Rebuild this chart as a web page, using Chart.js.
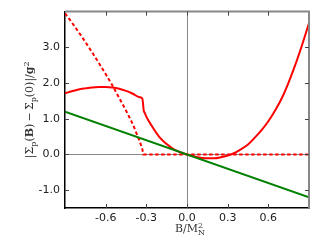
<!DOCTYPE html>
<html>
<head>
<meta charset="utf-8">
<script src="https://cdn.jsdelivr.net/npm/chart.js@4"></script>
<style>
  body { margin: 0; background: #fff; }
</style>
</head>
<body>
<canvas id="chart" width="325" height="245"></canvas>
<script>
// solid red curve
const solidX = [-0.9, -0.85, -0.8, -0.75, -0.7, -0.65, -0.6, -0.55, -0.5, -0.45, -0.4, -0.35, -0.33,
  -0.325, -0.32, -0.31, -0.3, -0.28, -0.25, -0.2, -0.15, -0.1, -0.05, 0, 0.05, 0.1, 0.15, 0.2, 0.25,
  0.3, 0.35, 0.4, 0.45, 0.5, 0.55, 0.6, 0.65, 0.7, 0.75, 0.8, 0.85, 0.9];
const solidY = [1.71, 1.77, 1.82, 1.85, 1.875, 1.885, 1.885, 1.875, 1.84, 1.78, 1.70, 1.60, 1.57,
  1.45, 1.25, 1.15, 1.06, 0.92, 0.74, 0.47, 0.29, 0.15, 0.06, 0, -0.05, -0.09, -0.11, -0.11, -0.08,
  -0.03, 0.04, 0.15, 0.28, 0.47, 0.68, 0.93, 1.23, 1.58, 2.02, 2.52, 3.08, 3.68];

// dashed red curve
const dashX = [-0.9, -0.85, -0.8, -0.75, -0.7, -0.65, -0.6, -0.55, -0.5, -0.45, -0.4, -0.35, -0.33, -0.322, 0.9];
const dashY = [3.95, 3.70, 3.43, 3.15, 2.86, 2.56, 2.25, 1.93, 1.58, 1.23, 0.85, 0.38, 0.15, 0, 0];

// green line
const greenX = [-0.9, 0.9];
const greenY = [1.2, -1.2];

const xTicks = [-0.6, -0.3, 0, 0.3, 0.6];
const yTicks = [-1, 0, 1, 2, 3];

const toPoints = (xs, ys) => xs.map((x, i) => ({ x: x, y: ys[i] }));

// draw text pieces with sub/superscripts, centred on x
function richText(ctx, parts, x, y) {
    let w = 0;
    parts.forEach(p => {
        ctx.font = p.font;
        p.w = ctx.measureText(p.t).width;
        if (!p.stack) w += p.w;
    });
    let cx = x - w / 2;
    parts.forEach(p => {
        ctx.font = p.font;
        ctx.fillText(p.t, cx, y + (p.dy || 0));
        if (!p.stack) cx += p.w;
    });
}

const framePlugin = {
    id: "frame",
    beforeDatasetsDraw(chart) {
        const { ctx, chartArea: a, scales } = chart;
        ctx.save();
        ctx.strokeStyle = "#888";
        ctx.lineWidth = 1;
        const x0 = Math.round(scales.x.getPixelForValue(0)) + 0.5;
        const y0 = Math.round(scales.y.getPixelForValue(0)) + 0.5;
        ctx.beginPath();
        ctx.moveTo(x0, a.top);
        ctx.lineTo(x0, a.bottom);
        ctx.moveTo(a.left, y0);
        ctx.lineTo(a.right, y0);
        ctx.stroke();
        ctx.restore();
    },
    afterDatasetsDraw(chart) {
        const { ctx, chartArea: a, scales } = chart;
        ctx.save();
        ctx.strokeStyle = "#888";
        ctx.lineWidth = 2;
        ctx.beginPath();
        ctx.moveTo(a.left, a.top);
        ctx.lineTo(a.right, a.top);
        ctx.lineTo(a.right, a.bottom);
        ctx.stroke();

        ctx.strokeStyle = "#444";
        ctx.lineWidth = 1;
        ctx.beginPath();
        xTicks.forEach(v => {
            const px = Math.round(scales.x.getPixelForValue(v)) + 0.5;
            ctx.moveTo(px, a.top);
            ctx.lineTo(px, a.top + 4);
            ctx.moveTo(px, a.bottom);
            ctx.lineTo(px, a.bottom - 4);
        });
        yTicks.forEach(v => {
            const py = Math.round(scales.y.getPixelForValue(v)) + 0.5;
            ctx.moveTo(a.left, py);
            ctx.lineTo(a.left + 4, py);
            ctx.moveTo(a.right, py);
            ctx.lineTo(a.right - 4, py);
        });
        ctx.stroke();

        // axis titles
        ctx.fillStyle = "#333";
        ctx.textAlign = "left";
        ctx.textBaseline = "alphabetic";
        const serif = "11px 'DejaVu Serif'";
        const small = "8px 'DejaVu Serif'";
        richText(ctx, [
            { t: "B/M", font: serif },
            { t: "2", font: small, dy: -4, stack: true },
            { t: "N", font: small, dy: 3 }
        ], 190, 232);

        ctx.translate(33, (a.top + a.bottom) / 2);
        ctx.rotate(-Math.PI / 2);
        richText(ctx, [
            { t: "|Σ", font: serif },
            { t: "p", font: small, dy: 3 },
            { t: "(", font: serif },
            { t: "B", font: "bold " + serif },
            { t: ")\u2009\u2212\u2009Σ", font: serif },
            { t: "p", font: small, dy: 3 },
            { t: "(0)|/", font: serif },
            { t: "g", font: "bold " + serif },
            { t: "2", font: small, dy: -4 }
        ], 0, 0);
        ctx.restore();
    }
};

const tickFont = { family: "'DejaVu Sans'", size: 11 };

new Chart(document.getElementById("chart"), {
    type: "scatter",
    data: {
        datasets: [
            {
                data: toPoints(greenX, greenY),
                showLine: true,
                borderColor: "#008000",
                borderWidth: 2,
                pointRadius: 0
            },
            {
                data: toPoints(dashX, dashY),
                showLine: true,
                borderColor: "#ff0000",
                borderWidth: 2,
                borderDash: [3.5, 2.5],
                pointRadius: 0
            },
            {
                data: toPoints(solidX, solidY),
                showLine: true,
                borderColor: "#ff0000",
                borderWidth: 2,
                pointRadius: 0,
                cubicInterpolationMode: "monotone"
            }
        ]
    },
    options: {
        responsive: false,
        animation: false,
        layout: { padding: { top: 5, right: 16, left: 0, bottom: 0 } },
        plugins: {
            legend: { display: false },
            tooltip: { enabled: false }
        },
        scales: {
            x: {
                type: "linear",
                min: -0.9,
                max: 0.9,
                afterBuildTicks: s => { s.ticks = xTicks.map(v => ({ value: v })); },
                afterFit: s => { s.height = 37; },
                ticks: {
                    font: tickFont,
                    color: "#222",
                    padding: 4,
                    maxRotation: 0,
                    autoSkip: false,
                    callback: v => v.toFixed(1)
                },
                grid: { display: false, drawTicks: false, tickLength: 0 },
                border: { display: true, color: "#000", width: 1.5 }
            },
            y: {
                type: "linear",
                min: -1.5,
                max: 4,
                afterBuildTicks: s => { s.ticks = yTicks.map(v => ({ value: v })); },
                afterFit: s => { s.width = 65; },
                ticks: {
                    font: tickFont,
                    color: "#222",
                    padding: 5,
                    autoSkip: false,
                    callback: v => v.toFixed(1)
                },
                grid: { display: false, drawTicks: false, tickLength: 0 },
                border: { display: true, color: "#000", width: 1.5 }
            }
        }
    },
    plugins: [framePlugin]
});
</script>
</body>
</html>
